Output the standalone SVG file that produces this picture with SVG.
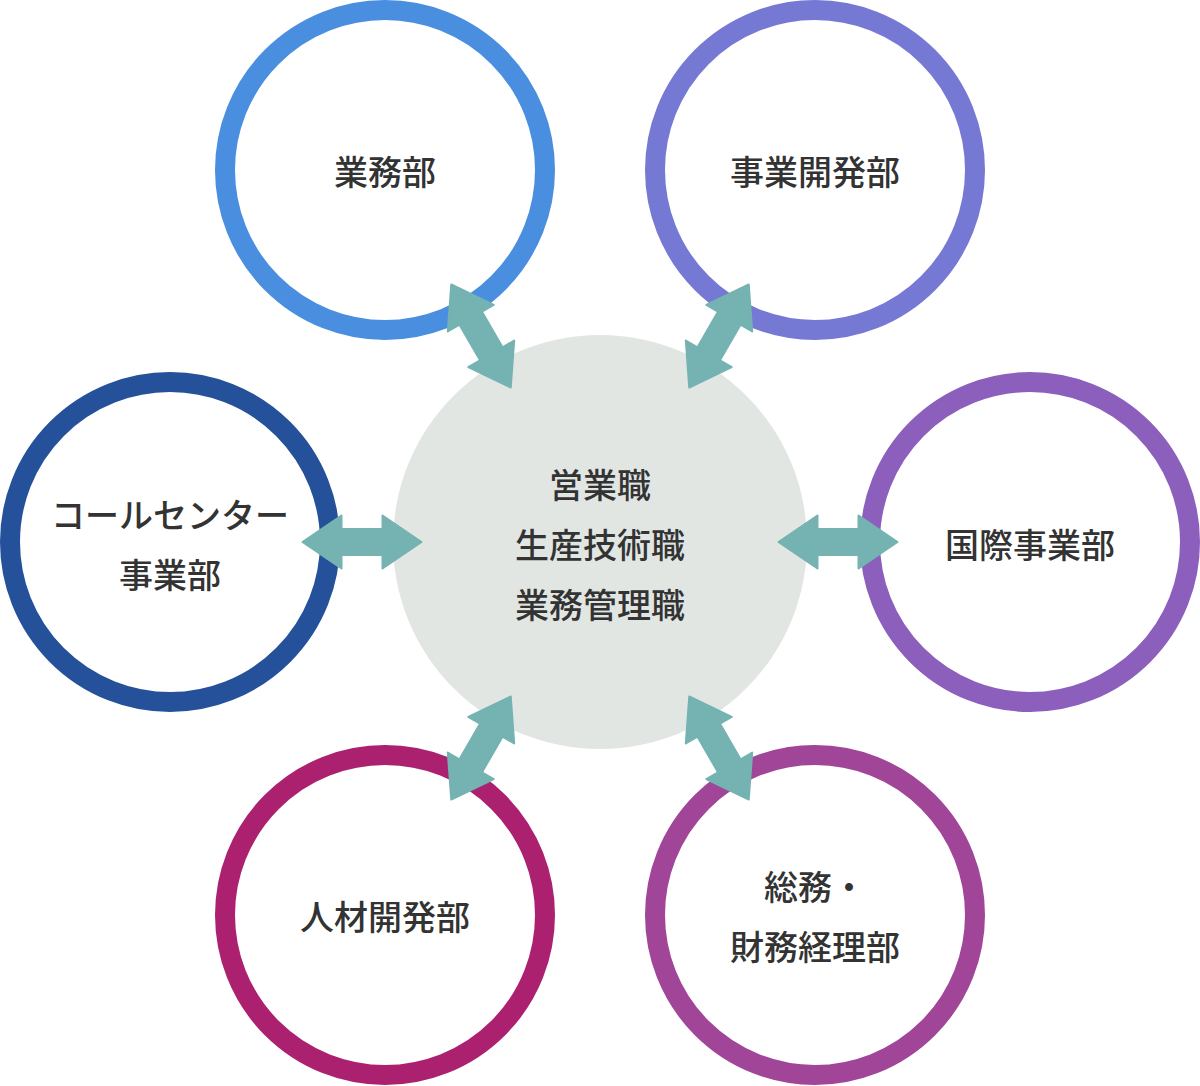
<svg xmlns="http://www.w3.org/2000/svg" width="1200" height="1086" viewBox="0 0 1200 1086">
  <style>
    .ring { fill: #ffffff; stroke-width: 20; }
    .lbl { font-family: "Noto Sans CJK JP", "Noto Sans", sans-serif; font-size: 34px; font-weight: 500; fill: #333333; text-anchor: middle; dominant-baseline: central; }
    .arr { fill: #74b3b1; stroke: #74b3b1; stroke-width: 2; stroke-linejoin: round; }
  </style>
  <defs>
    <path id="dbl" d="M-59.5,0 L-20.5,-26.5 L-20.5,-13 L20.5,-13 L20.5,-26.5 L59.5,0 L20.5,26.5 L20.5,13 L-20.5,13 L-20.5,26.5 Z"/>
  </defs>
  <rect x="0" y="0" width="1200" height="1086" fill="#ffffff"/>

  <g id="center">
    <circle cx="600" cy="542" r="207" fill="#e1e6e3"/>
    <text class="lbl" x="600" y="483">営業職</text>
    <text class="lbl" x="600" y="543">生産技術職</text>
    <text class="lbl" x="600" y="603">業務管理職</text>
  </g>

  <g id="gyomubu">
    <circle class="ring" cx="385" cy="170" r="160" stroke="#4a8ee0"/>
    <text class="lbl" x="385" y="170">業務部</text>
  </g>
  <g id="jigyokaihatsubu">
    <circle class="ring" cx="815" cy="170" r="160" stroke="#7579d3"/>
    <text class="lbl" x="815" y="170">事業開発部</text>
  </g>
  <g id="callcenter">
    <circle class="ring" cx="170" cy="542" r="160" stroke="#24519a"/>
    <text class="lbl" x="170" y="513">コールセンター</text>
    <text class="lbl" x="170" y="573">事業部</text>
  </g>
  <g id="kokusai">
    <circle class="ring" cx="1030" cy="542" r="160" stroke="#8c5fbd"/>
    <text class="lbl" x="1030" y="543">国際事業部</text>
  </g>
  <g id="jinzai">
    <circle class="ring" cx="385" cy="915" r="160" stroke="#ab2170"/>
    <text class="lbl" x="385" y="915">人材開発部</text>
  </g>
  <g id="somu">
    <circle class="ring" cx="815" cy="915" r="160" stroke="#a04597"/>
    <text class="lbl" x="815" y="885">総務・</text>
    <text class="lbl" x="815" y="945">財務経理部</text>
  </g>

  <g id="connectors">
    <use href="#dbl" class="arr" transform="translate(481,336) rotate(60)"/>
    <use href="#dbl" class="arr" transform="translate(719,336) rotate(-60)"/>
    <use href="#dbl" class="arr" transform="translate(362,542)"/>
    <use href="#dbl" class="arr" transform="translate(838,542)"/>
    <use href="#dbl" class="arr" transform="translate(481,748) rotate(-60)"/>
    <use href="#dbl" class="arr" transform="translate(719,748) rotate(60)"/>
  </g>
</svg>
